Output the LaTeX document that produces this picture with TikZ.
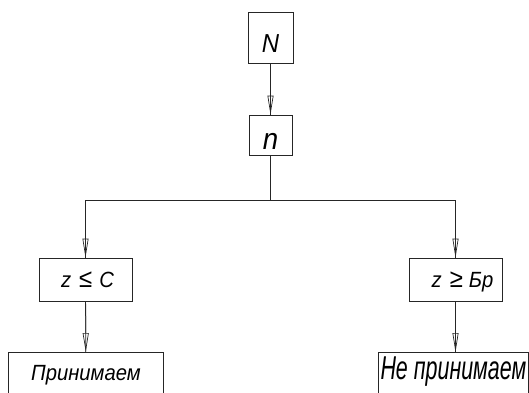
\documentclass[tikz,border=0pt]{standalone}
\usepackage{fontspec}
\setmainfont{Liberation Sans}
\newfontfamily\gost[FakeStretch=0.92]{Liberation Sans}
\newfontfamily\narrowf[FakeStretch=0.65]{Liberation Sans}
\newcommand{\bigrel}[1]{{\fontsize{26}{26}\selectfont #1}}
\usetikzlibrary{arrows.meta}
\begin{document}
\begin{tikzpicture}[x=1pt,y=-1pt,
  box/.style={draw=black!85, line width=0.8pt, inner sep=0pt, font=\gost\itshape\fontsize{22}{22}\selectfont},
  conn/.style={draw=black!85, line width=0.8pt},
  arr/.style={draw=black!85, line width=0.7pt, -{Triangle[open,length=19pt,width=6pt]}}]
\useasboundingbox (0,0) rectangle (529,392);
\clip (0,0) rectangle (529,392);
\node[box, minimum width=45pt, minimum height=51pt, text height=29pt, text depth=0pt, font=\gost\itshape\fontsize{26}{26}\selectfont] (N) at (270.5,37.5) {N};
\node[box, minimum width=43pt, minimum height=40pt, text height=28.5pt, text depth=0pt, font=\gost\itshape\fontsize{30}{30}\selectfont] (n) at (270.5,135) {n};
\coordinate (j) at (270.5,200);
\node[box, minimum width=93pt, minimum height=43pt, text height=16pt, text depth=0pt] (zc) at (85.5,279.5) {\hspace{4pt}z\hspace{8pt}\bigrel{≤}\hspace{7pt}C};
\node[box, minimum width=93pt, minimum height=43pt, text height=16pt, text depth=0pt] (zb) at (455.5,279.5) {\hspace{14pt}z\hspace{8pt}\bigrel{≥}\hspace{6pt}Бр};
\node[box, anchor=north west, minimum width=155pt, text height=28pt, text depth=22pt] (pr) at (8,352) {Принимаем};
\node[box, anchor=north west, minimum width=150pt, text height=27pt, text depth=22pt, font=\narrowf\itshape\fontsize{33}{33}\selectfont] (npr) at (378,352) {Не принимаем};
% connectors
\draw[conn] (N) -- (n);
\draw[arr] (N) -- (n);
\draw[conn] (n) -- (j) -| (zc);
\draw[conn] (j) -| (zb);
\draw[arr] ([yshift=38pt]zc.north) -- (zc);
\draw[arr] ([yshift=38pt]zb.north) -- (zb);
\draw[conn] (zc) -- (pr);
\draw[arr] (zc) -- (pr);
\draw[conn] (zb.south) -- (zb.south |- npr.north);
\draw[arr] (zb.south) -- (zb.south |- npr.north);
\end{tikzpicture}
\end{document}
